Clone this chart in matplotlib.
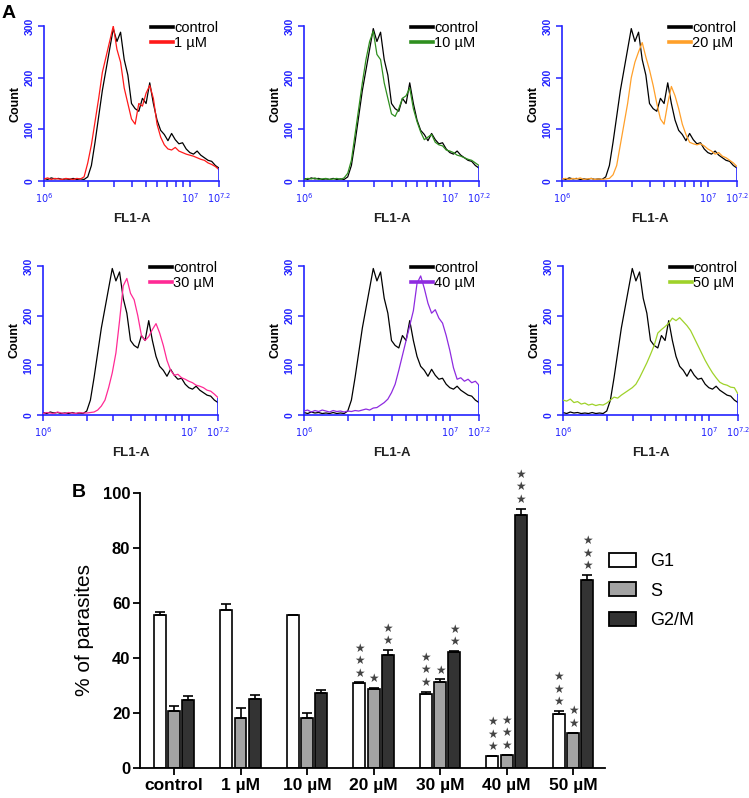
import numpy as np
import matplotlib
matplotlib.use('Agg')
import matplotlib.pyplot as plt
from matplotlib.lines import Line2D
from matplotlib.patches import Patch

plt.rcParams['font.family'] = ['Liberation Sans', 'DejaVu Sans']

# ---------------- Panel A data (flow cytometry histograms) ----------------
# channel positions in decades above 10^6 (FL1-A from 10^6 to 10^7.2)
fl_decades = np.linspace(0.0, 1.2, 49)

hist_control = [5, 3, 6, 4, 5, 3, 4, 3, 5, 3, 4, 3,
                8, 30, 75, 125, 175, 215, 255, 295, 270, 288, 235, 205,
                150, 140, 135, 160, 150, 190, 150, 118, 98, 90, 78, 92,
                80, 72, 74, 62, 55, 52, 58, 50, 45, 40, 38, 30,
                25]
hist_1uM = [4, 6, 3, 5, 4, 3, 5, 4, 3, 5, 4, 8,
            35, 70, 115, 160, 210, 240, 270, 300, 255, 230, 180, 150,
            120, 110, 150, 145, 170, 185, 160, 110, 85, 70, 62, 60,
            65, 58, 55, 52, 50, 48, 45, 42, 40, 35, 32, 28,
            22]
hist_10uM = [3, 5, 4, 6, 3, 4, 5, 3, 4, 5, 3, 6,
             15, 40, 90, 140, 190, 235, 270, 290, 245, 235, 190, 160,
             130, 125, 140, 160, 165, 180, 140, 115, 95, 80, 85, 90,
             75, 70, 68, 60, 58, 55, 50, 48, 45, 42, 40, 35,
             30]
hist_20uM = [4, 5, 3, 5, 4, 6, 3, 4, 5, 3, 4, 3,
             4, 5, 12, 30, 70, 110, 150, 200, 230, 250, 268, 240,
             215, 185, 150, 120, 110, 150, 183, 165, 140, 110, 90, 75,
             72, 70, 72, 68, 62, 58, 52, 55, 48, 45, 40, 35,
             28]
hist_30uM = [3, 5, 4, 3, 6, 4, 3, 5, 4, 3, 5, 4,
             4, 5, 6, 10, 18, 30, 55, 85, 125, 190, 260, 275,
             245, 232, 200, 160, 150, 158, 172, 184, 165, 140, 110, 90,
             80, 82, 75, 72, 68, 65, 60, 58, 55, 50, 48, 42,
             35]
hist_40uM = [8, 10, 6, 9, 7, 10, 8, 6, 9, 7, 8, 6,
             8, 7, 9, 8, 10, 12, 10, 14, 15, 20, 25, 32,
             45, 62, 90, 120, 150, 180, 210, 265, 280, 255, 225, 205,
             212, 195, 185, 160, 130, 95, 72, 75, 68, 72, 65, 68,
             60]
hist_50uM = [30, 28, 32, 25, 27, 22, 24, 20, 22, 19, 21, 20,
             24, 30, 36, 34, 40, 45, 50, 55, 62, 75, 90, 105,
             122, 140, 165, 172, 178, 185, 195, 190, 196, 188, 180, 170,
             155, 140, 125, 110, 97, 85, 75, 66, 62, 60, 56, 55,
             42]

treat_labels = ['1 µM', '10 µM', '20 µM', '30 µM', '40 µM', '50 µM']
treat_hists = [hist_1uM, hist_10uM, hist_20uM, hist_30uM, hist_40uM, hist_50uM]
treat_colors = ['#ff1a1a', '#2f8f1f', '#ffa02a', '#ff2a95', '#8e2be0', '#9fd22a']

# ---------------- Panel B data (cell cycle) ----------------
groups = ['control', '1 µM', '10 µM', '20 µM', '30 µM', '40 µM', '50 µM']
g1 = [55.6, 57.4, 55.5, 30.8, 26.8, 4.2, 19.7]
g1_err = [1.0, 2.4, 0.2, 0.3, 1.0, 0.2, 1.1]
s_phase = [20.8, 18.1, 18.1, 28.8, 31.4, 4.6, 12.7]
s_err = [1.6, 3.6, 2.0, 0.3, 0.8, 0.3, 0.2]
g2m = [24.8, 25.2, 27.1, 41.1, 42.3, 91.9, 68.3]
g2m_err = [1.5, 1.5, 1.3, 1.9, 0.2, 2.4, 1.8]
stars_g1 = [0, 0, 0, 3, 3, 3, 3]
stars_s = [0, 0, 0, 1, 1, 3, 2]
stars_g2m = [0, 0, 0, 2, 2, 3, 3]

W, H = 749, 798
fig = plt.figure(figsize=(W / 100, H / 100), dpi=100)


def rect(left, top, right, bottom):
    return [left / W, 1 - bottom / H, (right - left) / W, (bottom - top) / H]


BLUE = '#2323ff'
x_vals = 1e6 * 10 ** fl_decades

hist_rects = [(44, 26, 219, 181), (304, 26, 479, 181), (562, 26, 737, 181),
              (43, 266, 218, 415), (304, 266, 479, 415), (563, 266, 738, 415)]

for i, (lab, h, c) in enumerate(zip(treat_labels, treat_hists, treat_colors)):
    l, t, r, b = hist_rects[i]
    ax = fig.add_axes(rect(l, t, r, b))
    ax.plot(x_vals, hist_control, color='black', lw=0.9, zorder=2)
    ax.plot(x_vals, h, color=c, lw=0.9, zorder=3)
    ax.vlines(x_vals[-1], 0, max(hist_control[-1], h[-1]), color=BLUE, lw=1.2, zorder=4)
    ax.set_xscale('log')
    ax.set_xlim(1e6, 10 ** 7.2)
    ax.set_ylim(0, 300)
    for sp in ['top', 'right']:
        ax.spines[sp].set_visible(False)
    for sp in ['left', 'bottom']:
        ax.spines[sp].set_color(BLUE)
        ax.spines[sp].set_linewidth(1.2)
    ax.set_xticks([1e6, 1e7, 10 ** 7.2])
    ax.set_xticklabels([r'$\mathit{10^{6}}$', r'$\mathit{10^{7}}$', r'$\mathit{10^{7.2}}$'],
                       fontsize=7, color=BLUE)
    ax.set_xticks([k * 1e6 for k in range(2, 10)], minor=True)
    ax.xaxis.set_minor_formatter(plt.NullFormatter())
    ax.tick_params(axis='x', which='both', direction='out', length=4, width=1.1,
                   color=BLUE, pad=3)
    ax.set_yticks([0, 100, 200, 300])
    ax.set_yticklabels(['0', '100', '200', '300'], rotation=90, va='center',
                       fontsize=7.5, fontweight='bold', color=BLUE)
    ax.tick_params(axis='y', direction='out', length=4, width=1.1, color=BLUE, pad=3)
    ax.set_ylabel('Count', fontsize=9, fontweight='bold', labelpad=2)
    ax.set_xlabel('FL1-A', fontsize=9.5, fontweight='bold', color='#222222', labelpad=6)
    handles = [Line2D([], [], color='black', lw=2.6), Line2D([], [], color=c, lw=2.6)]
    ax.legend(handles, ['control', lab], loc='upper left',
              bbox_to_anchor=((l + 107) / W, 1 - (t - 5) / H),
              bbox_transform=fig.transFigure, frameon=False, fontsize=10.5,
              handlelength=1.5, handletextpad=0.1, labelspacing=0.1,
              borderpad=0, borderaxespad=0)

fig.text(2 / W, 1 - 18 / H, 'A', fontsize=14, fontweight='bold', ha='left', va='baseline')

# ---------------- Panel B ----------------
axb = fig.add_axes(rect(140, 493, 605, 768))
xpos = np.arange(len(groups))
bw = 0.18
off = 0.215
series = [(g1, g1_err, stars_g1, 'white', -off),
          (s_phase, s_err, stars_s, '#a3a3a3', 0.0),
          (g2m, g2m_err, stars_g2m, '#333333', off)]
for vals, errs, stars, col, dx in series:
    xs = xpos + dx
    axb.bar(xs, vals, width=bw, color=col, edgecolor='black', linewidth=1.2, zorder=2)
    axb.errorbar(xs, vals, yerr=[np.zeros(len(vals)), errs], fmt='none',
                 ecolor='black', elinewidth=1.2, capsize=3.5, capthick=1.2, zorder=3)
    for xx, v, e, n in zip(xs, vals, errs, stars):
        if n > 0:
            axb.annotate('\n'.join(['★'] * n), xy=(xx, v + e), xytext=(0, 2),
                         textcoords='offset points', ha='center', va='bottom',
                         fontsize=8.5, linespacing=0.95, color='#444444',
                         family=['DejaVu Sans'])

axb.set_xlim(-0.511, 6.48)
axb.set_ylim(0, 100)
for sp in ['top', 'right']:
    axb.spines[sp].set_visible(False)
for sp in ['left', 'bottom']:
    axb.spines[sp].set_linewidth(1.3)
axb.set_yticks([0, 20, 40, 60, 80, 100])
axb.set_yticklabels(['0', '20', '40', '60', '80', '100'], fontsize=12, fontweight='bold')
axb.set_xticks(xpos)
axb.set_xticklabels(groups, fontsize=12.5, fontweight='bold')
axb.tick_params(axis='both', direction='out', length=5, width=1.3, pad=2)
axb.set_ylabel('% of parasites', fontsize=15, labelpad=6)

leg_handles = [Patch(facecolor='white', edgecolor='black', linewidth=1.3),
               Patch(facecolor='#a3a3a3', edgecolor='black', linewidth=1.3),
               Patch(facecolor='#333333', edgecolor='black', linewidth=1.3)]
fig.legend(leg_handles, ['G1', 'S', 'G2/M'], loc='upper left',
           bbox_to_anchor=(609 / W, 1 - 553 / H), frameon=False, fontsize=13,
           handlelength=1.5, handleheight=0.8, handletextpad=0.8, labelspacing=0.68,
           borderpad=0, borderaxespad=0)

fig.text(72 / W, 1 - 497 / H, 'B', fontsize=14, fontweight='bold', ha='left', va='baseline')

fig.savefig('out.png', dpi=100)
